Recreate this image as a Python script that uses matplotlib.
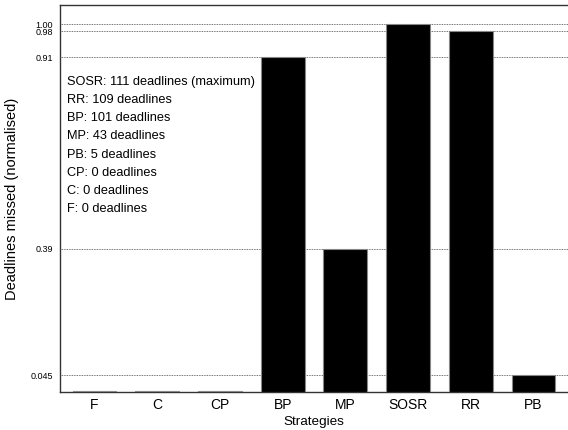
import numpy as np
import matplotlib
matplotlib.use("Agg")
from matplotlib import pyplot as plt

plt.rcParams['font.family'] = ['Liberation Sans', 'DejaVu Sans']

strategies = ['F', 'C', 'CP', 'BP', 'MP', 'SOSR', 'RR', 'PB']
missed = [0.002, 0.002, 0.002, 0.91, 0.39, 1.00, 0.98, 0.045]
ytick_vals = [0.045, 0.39, 0.91, 0.98, 1.00]
ytick_labels = ['0.045', '0.39', '0.91', '0.98', '1.00']
notes = [
    'SOSR: 111 deadlines (maximum)',
    'RR: 109 deadlines',
    'BP: 101 deadlines',
    'MP: 43 deadlines',
    'PB: 5 deadlines',
    'CP: 0 deadlines',
    'C: 0 deadlines',
    'F: 0 deadlines',
]

W, H = 568, 430
fig = plt.figure(figsize=(W / 100, H / 100), dpi=100)
ax = fig.add_axes([60 / W, 38 / H, 508 / W, 387 / H])

x = np.arange(len(strategies))
ax.bar(x, missed, width=0.7, color='black', edgecolor='#888888', linewidth=0.8, zorder=3)

ax.set_xlim(-0.55, 7.55)
ax.set_ylim(0, 1.052)
ax.set_xticks(x)
ax.set_xticklabels(strategies, fontsize=10)
ax.set_yticks(ytick_vals)
ax.set_yticklabels(ytick_labels, fontsize=6.5)
ax.tick_params(length=0)
ax.tick_params(axis='y', pad=5)
ax.tick_params(axis='x', pad=4.5)
ax.grid(axis='y', linestyle=(0, (1, 1)), color='#444444', linewidth=0.6, zorder=0)

for side in ['left', 'top', 'bottom']:
    ax.spines[side].set_color('#333333')
    ax.spines[side].set_linewidth(1.0)
ax.spines['right'].set_visible(False)

ax.set_xlabel('Strategies', fontsize=9.7, labelpad=3)
ax.set_ylabel('Deadlines missed (normalised)', fontsize=10.5)
ax.yaxis.set_label_coords((19 - 60) / 508, 0.5)

# legend-like notes, laid out in figure pixels
for i, line in enumerate(notes):
    fig.text(67 / W, 1 - (81.7 + i * 18.2) / H, line, fontsize=9.2, va='center', ha='left')

fig.savefig('out.png', dpi=100)
